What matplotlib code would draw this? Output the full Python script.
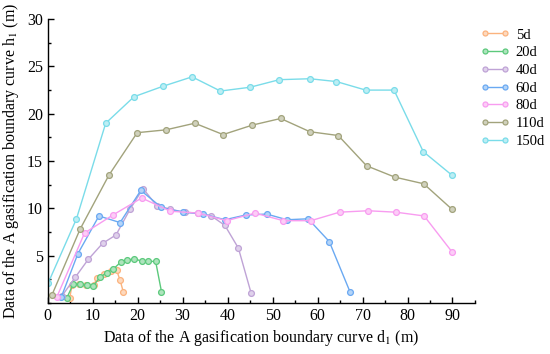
import numpy as np
import matplotlib
matplotlib.use("Agg")
import matplotlib.pyplot as plt
from matplotlib.ticker import MultipleLocator

plt.rcParams['font.family'] = ['Liberation Serif', 'DejaVu Serif']
plt.rcParams['mathtext.fontset'] = 'stix'

# series: d1 (m) and h1 (m)
x_5d = [4.9, 5.4, 7.0, 8.6, 10.2, 11.0, 12.6, 14.0, 15.3, 16.1, 16.8]
y_5d = [0.5, 1.9, 2.0, 1.9, 1.9, 2.6, 3.1, 3.4, 3.5, 2.4, 1.2]

x_20d = [4.2, 5.7, 7.2, 8.7, 10.1, 11.6, 13.1, 14.6, 16.2, 17.7, 19.3, 20.9, 22.4, 24.0, 25.3]
y_20d = [0.5, 2.0, 2.0, 1.9, 1.8, 2.7, 3.2, 3.6, 4.3, 4.5, 4.7, 4.4, 4.4, 4.4, 1.2]

x_40d = [3.1, 6.1, 9.0, 12.2, 15.2, 18.3, 21.2, 24.2, 27.3, 30.5, 33.4, 36.4, 39.4, 42.4, 45.2]
y_40d = [0.7, 2.7, 4.6, 6.3, 7.2, 9.9, 12.1, 10.3, 9.9, 9.6, 9.5, 9.2, 8.2, 5.8, 1.1]

x_60d = [3.0, 6.7, 11.4, 16.1, 20.7, 25.3, 30.1, 34.6, 39.4, 44.0, 48.7, 53.2, 57.9, 62.6, 67.2]
y_60d = [0.6, 5.2, 9.2, 8.5, 11.9, 10.1, 9.6, 9.4, 8.8, 9.3, 9.4, 8.8, 8.9, 6.5, 1.2]

x_80d = [2.0, 8.2, 14.5, 20.9, 27.3, 33.5, 39.8, 46.1, 52.4, 58.5, 64.9, 71.2, 77.4, 83.7, 89.9]
y_80d = [0.6, 7.4, 9.3, 11.1, 9.7, 9.5, 8.7, 9.5, 8.7, 8.7, 9.6, 9.75, 9.6, 9.2, 5.4]

x_110d = [0.9, 7.2, 13.6, 19.9, 26.3, 32.7, 39.0, 45.5, 51.8, 58.3, 64.6, 70.9, 77.2, 83.6, 89.9]
y_110d = [0.8, 7.8, 13.5, 18.0, 18.3, 19.0, 17.8, 18.8, 19.5, 18.1, 17.7, 14.5, 13.3, 12.6, 9.9]

x_150d = [0.1, 6.4, 12.9, 19.2, 25.6, 32.1, 38.4, 45.0, 51.5, 58.3, 64.2, 70.7, 77.0, 83.5, 89.9]
y_150d = [2.1, 8.9, 19.0, 21.8, 22.9, 23.9, 22.4, 22.8, 23.6, 23.7, 23.4, 22.5, 22.5, 16.0, 13.5]

labels = ['5d', '20d', '40d', '60d', '80d', '110d', '150d']
colors = ['#FBB37E', '#5CC97C', '#BFA3D6', '#6AA9F2', '#F89CF0', '#A2A37C', '#7ADCE9']
fills = ['#FDD9BE', '#AEE4BD', '#DFD1EB', '#B4D4F8', '#FCCDF7', '#D0D1BD', '#BCEEF4']
xs = [x_5d, x_20d, x_40d, x_60d, x_80d, x_110d, x_150d]
ys = [y_5d, y_20d, y_40d, y_60d, y_80d, y_110d, y_150d]

fig = plt.figure(figsize=(5.5, 3.54), dpi=100)
ax = fig.add_axes([0.0867, 0.144, 0.7769, 0.802])

for x, y, lab, c, f in zip(xs, ys, labels, colors, fills):
    ax.plot(x, y, '-o', color=c, lw=1.0, ms=4.2, mfc=f, mec=c, mew=0.9, label=lab)

ax.set_xlim(0, 95)
ax.set_ylim(0, 30)
ax.set_xticks(np.arange(0, 91, 10))
ax.set_yticks(np.arange(5, 31, 5))
ax.xaxis.set_minor_locator(MultipleLocator(5))
ax.yaxis.set_minor_locator(MultipleLocator(2.5))
ax.tick_params(which='both', direction='in', labelsize=11.5, width=1)
ax.tick_params(which='major', length=4)
ax.tick_params(which='minor', length=2.5)
ax.spines['top'].set_visible(False)
ax.spines['right'].set_visible(False)
ax.spines['left'].set_linewidth(1)
ax.spines['bottom'].set_linewidth(1)

ax.set_xlabel('Data of the A gasification boundary curve d$_1$ (m)', fontsize=11.5, labelpad=3)
ax.set_ylabel('Data of the A gasification boundary curve h$_1$ (m)', fontsize=11.5, labelpad=4)

ax.legend(loc='upper left', bbox_to_anchor=(0.874, 0.92), bbox_transform=fig.transFigure,
          frameon=False, numpoints=2, fontsize=10.5, handlelength=1.95, markerscale=0.85,
          labelspacing=0.31, handletextpad=0.45, borderpad=0, borderaxespad=0)

fig.savefig('out.png', dpi=100)
